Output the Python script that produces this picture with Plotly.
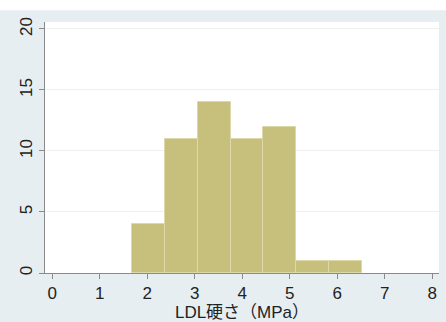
import plotly.graph_objects as go

# Histogram of LDL stiffness: bins of equal width starting at bin_start
counts = [4, 11, 14, 11, 12, 1, 1]
bin_start = 1.684
bin_width = 0.69
x_ticks = [0, 1, 2, 3, 4, 5, 6, 7, 8]
y_ticks = [0, 5, 10, 15, 20]
x_title = "LDL硬さ（MPa）"

centers = [bin_start + bin_width * (i + 0.5) for i in range(len(counts))]

FONT = "Liberation Sans, Arial, Noto Sans CJK JP, sans-serif"
BG = "#e6eef2"
BAR = "#c6c07c"
AXIS = "#8a8a8a"

fig = go.Figure(
    go.Bar(
        x=centers,
        y=counts,
        width=[bin_width] * len(counts),
        marker=dict(color=BAR, line=dict(color="#dcd8aa", width=1)),
        hoverinfo="x+y",
    )
)

fig.update_layout(
    width=446,
    height=322,
    margin=dict(l=45, r=7, t=22, b=46),
    paper_bgcolor=BG,
    plot_bgcolor="white",
    showlegend=False,
    bargap=0,
    font=dict(family=FONT, size=17, color="#222222"),
    shapes=[
        dict(
            type="rect", xref="paper", yref="paper",
            x0=-0.2, x1=1.1, y0=1.0472, y1=1.2,
            fillcolor="white", line=dict(width=0), layer="below",
        )
    ],
)

fig.update_xaxes(
    range=[-0.154, 8.14],
    tickvals=x_ticks,
    ticks="outside",
    ticklen=5,
    tickcolor=AXIS,
    showline=True,
    linecolor=AXIS,
    linewidth=1,
    showgrid=False,
    zeroline=False,
    tickfont=dict(size=17),
    title=dict(text=x_title, font=dict(size=17), standoff=0),
)

fig.update_yaxes(
    range=[0, 20.57],
    tickvals=y_ticks,
    tickangle=-90,
    ticks="outside",
    ticklen=5,
    tickcolor=AXIS,
    showline=True,
    linecolor=AXIS,
    linewidth=1,
    showgrid=True,
    gridcolor="#efefef",
    zeroline=False,
    tickfont=dict(size=17),
)

fig.write_html("out.html")
